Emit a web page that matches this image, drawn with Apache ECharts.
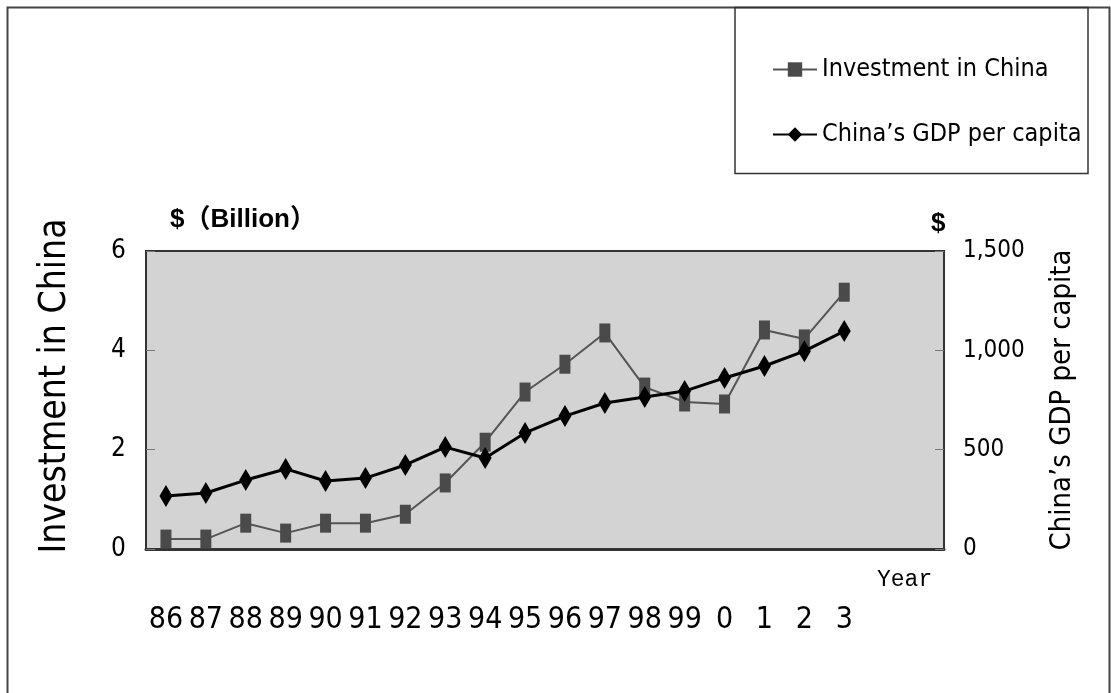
<!DOCTYPE html>
<html>
<head>
<meta charset="utf-8">
<title>Investment in China and GDP per capita</title>
<script src="https://cdn.jsdelivr.net/npm/echarts@6/dist/echarts.min.js"></script>
<style>
  html, body { margin: 0; padding: 0; background: #fff; }
  #chart { width: 1111px; height: 693px; }
</style>
</head>
<body>
<div id="chart"></div>
<script>
// Year labels (two-digit years), with two empty slots after 2003
const years = ['86', '87', '88', '89', '90', '91', '92', '93', '94', '95',
               '96', '97', '98', '99', '0', '1', '2', '3', '', ''];

// Investment in China, $ billion
const investment = [0.2, 0.2, 0.52, 0.32, 0.52, 0.52, 0.70, 1.33, 2.15, 3.16,
                    3.72, 4.35, 3.26, 2.96, 2.92, 4.41, 4.23, 5.17];

// China's GDP per capita, $
const gdpPerCapita = [267, 282, 347, 403, 342, 357, 423, 513, 458, 584,
                      669, 735, 765, 795, 861, 921, 996, 1097];

const seriesNames = ['Investment in China', 'China’s GDP per capita'];

// narrow faces first, regular sans as a last resort
const NARROW = '"DejaVu Sans Condensed", "Liberation Sans Narrow", "Liberation Sans", sans-serif';

const chart = echarts.init(document.getElementById('chart'), null, { renderer: 'canvas' });

chart.setOption({
  backgroundColor: '#ffffff',
  animation: false,
  grid: {
    left: 146, right: 167, top: 251, bottom: 144,
    show: true,
    backgroundColor: '#d3d3d3',
    borderColor: '#333',
    borderWidth: 2
  },
  legend: {
    orient: 'vertical',
    left: 772,
    top: 57,
    padding: 0,
    itemGap: 40,
    itemWidth: 44,
    itemHeight: 18,
    textStyle: { fontSize: 25, fontFamily: NARROW, color: '#000' },
    data: seriesNames
  },
  xAxis: {
    type: 'category',
    data: years,
    boundaryGap: true,
    axisLine: { lineStyle: { color: '#333', width: 3 } },
    axisTick: { inside: true, length: 15, interval: 0, lineStyle: { color: '#777', width: 1 } },
    axisLabel: { interval: 0, margin: 56, fontSize: 30, fontFamily: NARROW, color: '#000' },
    splitLine: { show: false }
  },
  yAxis: [
    {
      type: 'value',
      position: 'left',
      min: 0, max: 6, interval: 2,
      name: seriesNames[0],
      nameLocation: 'middle',
      nameRotate: 90,
      nameGap: 72,
      nameTextStyle: { fontSize: 37, fontFamily: NARROW, color: '#000', padding: [0, 0, 0, 28] },
      axisLine: { show: true, lineStyle: { color: '#333', width: 2 } },
      axisTick: { show: true, inside: true, length: 9, lineStyle: { color: '#777' } },
      axisLabel: { margin: 20, fontSize: 26, fontFamily: NARROW, color: '#000' },
      splitLine: { show: false }
    },
    {
      type: 'value',
      position: 'right',
      min: 0, max: 1500, interval: 500,
      name: seriesNames[1],
      nameLocation: 'middle',
      nameRotate: 90,
      nameGap: 104,
      nameTextStyle: { fontSize: 29, fontFamily: NARROW, color: '#000' },
      axisLine: { show: true, lineStyle: { color: '#333', width: 2 } },
      axisTick: { show: true, inside: true, length: 9, lineStyle: { color: '#777' } },
      axisLabel: {
        margin: 19, fontSize: 24, fontFamily: NARROW, color: '#000',
        formatter: v => v.toLocaleString('en-US')
      },
      splitLine: { show: false }
    }
  ],
  series: [
    {
      name: seriesNames[0],
      type: 'line',
      yAxisIndex: 0,
      data: investment,
      symbol: 'rect',
      symbolSize: [11, 19],
      itemStyle: { color: '#4a4a4a' },
      lineStyle: { color: '#555', width: 2 },
      z: 2
    },
    {
      name: seriesNames[1],
      type: 'line',
      yAxisIndex: 1,
      data: gdpPerCapita,
      symbol: 'diamond',
      symbolSize: [13, 22],
      itemStyle: { color: '#000' },
      lineStyle: { color: '#000', width: 3 },
      z: 3
    }
  ],
  graphic: [
    // outer frame
    {
      type: 'rect', silent: true, z: 0,
      shape: { x: 7.5, y: 7.5, width: 1102, height: 700 },
      style: { fill: 'none', stroke: '#444', lineWidth: 2 }
    },
    // legend box
    {
      type: 'rect', silent: true, z: 1,
      shape: { x: 735, y: 7.5, width: 353, height: 166 },
      style: { fill: 'none', stroke: '#333', lineWidth: 1.5 }
    },
    // unit captions
    {
      type: 'text', left: 170, top: 207,
      style: { text: '$（Billion）', fill: '#000', font: 'bold 26px "Liberation Sans", "Noto Sans CJK JP", sans-serif' }
    },
    {
      type: 'text', left: 931, top: 211,
      style: { text: '$', fill: '#000', font: 'bold 26px "Liberation Sans", sans-serif' }
    },
    {
      type: 'text', left: 877, top: 568,
      style: { text: 'Year', fill: '#000', font: '23px "Liberation Mono", "DejaVu Sans Mono", monospace' }
    }
  ]
});
</script>
</body>
</html>
